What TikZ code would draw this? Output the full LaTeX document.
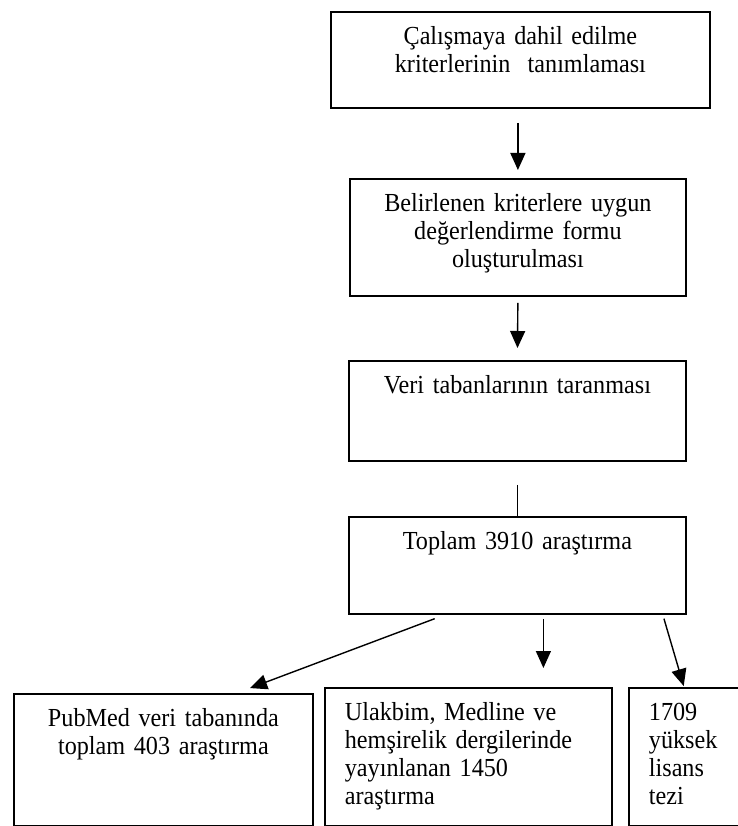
\documentclass[tikz,border=0pt]{standalone}
\usepackage{fontspec}
\setmainfont{Liberation Serif}[FakeStretch=0.93,WordSpace=0.8]
\usetikzlibrary{arrows.meta}

\begin{document}
\begin{tikzpicture}[x=1pt,y=-1pt,
  box/.style={draw, line width=1.8pt, anchor=north west, inner ysep=15pt,
    text height=18pt, font=\fontsize{26pt}{28pt}\selectfont},
  flow/.style={line width=1.4pt, -{Triangle[length=17pt,width=15pt]}}]

  \useasboundingbox (0,0) rectangle (737,826);

  \node[box, align=center, inner xsep=0pt, text width=379pt, text depth=48pt] (define) at (330,11)
    {Çalışmaya dahil edilme\\kriterlerinin~ tanımlaması};
  \node[box, align=center, inner xsep=0pt, text width=336pt, text depth=69pt] (form) at (349,178)
    {Belirlenen kriterlere uygun\\değerlendirme formu\\oluşturulması};
  \node[box, align=center, inner xsep=0pt, text width=337pt, text depth=52pt] (search) at (348,360)
    {Veri tabanlarının taranması};
  \node[box, align=center, inner xsep=0pt, text width=337pt, text depth=49pt] (total) at (348,516)
    {Toplam 3910 araştırma};

  \node[box, align=center, inner xsep=0pt, text width=299pt, text depth=84pt] (pubmed) at (13,693)
    {PubMed veri tabanında\\toplam 403 araştırma};
  \node[box, align=left, inner xsep=20pt, text width=247pt, text depth=90pt] (journals) at (324,687)
    {Ulakbim, Medline ve\\hemşirelik dergilerinde\\yayınlanan 1450\\araştırma};
  \node[box, align=left, inner xsep=20pt, text width=100pt, text depth=90pt] (theses) at (628,687)
    {1709\\yüksek\\lisans\\tezi};

  \draw[flow, shorten <=14pt, shorten >=8pt] (form.north |- define.south) -- (form.north);
  \draw[flow, shorten <=6pt, shorten >=12pt] (form.south) -- (search.north);
  \draw[line width=1.4pt, shorten <=23pt] (search.south) -- (total.north);

  \draw[flow, shorten <=11pt, shorten >=14pt] ([xshift=97pt]total.south west) -- ([xshift=224pt]pubmed.north west);
  \draw[flow, shorten <=4pt, shorten >=19pt] ([xshift=26pt]total.south) -- ([xshift=26pt]total.south |- journals.north);
  \draw[flow, shorten <=4pt, shorten >=1pt] ([xshift=-24pt]total.south east) -- ([xshift=56pt]theses.north west);
\end{tikzpicture}
\end{document}
